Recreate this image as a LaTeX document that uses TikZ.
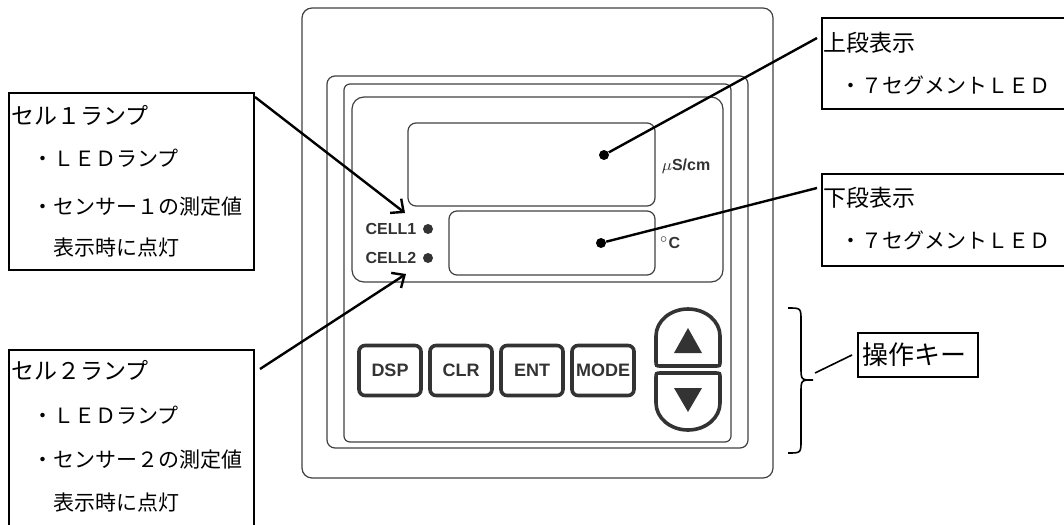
\documentclass[tikz,border=0pt]{standalone}
\usepackage{fontspec}
\setmainfont{Noto Sans CJK JP}
\newfontfamily\hv{Liberation Sans}
\usetikzlibrary{arrows.meta}

\tikzset{
  frame/.style={draw=black!75, line width=0.6pt},
  key/.style={draw=black!80, line width=1.8pt, rounded corners=3pt, minimum width=31pt,
    minimum height=25pt, inner sep=0pt, font=\hv\bfseries\fontsize{9}{9}\selectfont, text=black!80},
  arrowkey/.style={draw=black!80, line width=1.8pt},
  callout/.style={draw, line width=1pt, inner sep=0pt, anchor=north west},
  lead/.style={line width=1.2pt},
  dot/.style={circle, fill, inner sep=0pt, minimum size=5pt},
  lamp/.style={circle, fill=black!80, inner sep=0pt, minimum size=5pt},
  title/.style={anchor=west, inner sep=0pt, font=\fontsize{11.5}{12}\selectfont},
  item/.style={anchor=west, inner sep=0pt, font=\fontsize{10.5}{11}\selectfont},
  panel/.style={font=\hv\bfseries\fontsize{8}{8}\selectfont, text=black!80, inner sep=0pt},
}

\begin{document}
\begin{tikzpicture}[x=0.5pt, y=-0.5pt, >={Straight Barb[length=5pt,width=9pt]}]
    \useasboundingbox (0,0) rectangle (1064,524);
    \clip (0,0) rectangle (1064,524);

    % ケース
    \draw[frame, rounded corners=5pt] (302,8) rectangle (773,478);
    \draw[frame, rounded corners=4pt] (327,76) rectangle (748,448);
    \draw[frame, rounded corners=3pt] (344,84) rectangle (731,442);

    % 表示部
    \draw[frame, rounded corners=6pt] (352,97) rectangle (723,282);
    \draw[frame, rounded corners=4pt] (408,123) rectangle (655,206);
    \draw[frame, rounded corners=4pt] (449,211) rectangle (655,275);
    \node[panel] (unitup) at (686,166) {$\mu$S/cm};
    \node[panel] (unitlow) at (670,243) {$^{\circ}$C};
    \node[panel] (cellone) at (391,229) {CELL1};
    \node[panel] (celltwo) at (391,258) {CELL2};
    \node[lamp] (lampone) at (428,229) {};
    \node[lamp] (lamptwo) at (428,258) {};
    \node[dot] (updot) at (604,155) {};
    \node[dot] (lowdot) at (601,243) {};

    % 操作キー
    \foreach \name/\txt [count=\i from 0] in {dsp/DSP, clr/CLR, ent/ENT, mode/MODE}
        \node[key] (\name) at (390+71*\i,370.5) {\txt};
    \draw[arrowkey] (656,336) .. controls (656,321) and (670.4,309) .. (688,309)
        .. controls (705.6,309) and (720,321) .. (720,336) -- (720,361)
        .. controls (720,366) .. (715,366) -- (661,366) .. controls (656,366) .. (656,361) -- cycle;
    \draw[arrowkey] (656,378) .. controls (656,373) .. (661,373) -- (715,373)
        .. controls (720,373) .. (720,378) -- (720,403)
        .. controls (720,418) and (705.6,430) .. (688,430)
        .. controls (670.4,430) and (656,418) .. (656,403) -- cycle;
    \fill[black!80] (674,353) -- (688,328) -- (702,353) -- cycle;
    \fill[black!80] (674,388) -- (702,388) -- (688,412) -- cycle;

    % 中かっこ
    \draw[line width=0.8pt] (788,308) .. controls (801,308) .. (801,321) -- (801,367)
        .. controls (801,380) .. (813,380) .. controls (801,380) .. (801,393) -- (801,440)
        .. controls (801,453) .. (788,453);
    \coordinate (bracetip) at (815,373);

    % 説明の枠
    \node[callout, minimum width=122.5pt, minimum height=88.5pt] (lampbox1) at (8,92) {};
    \node[title] at (11,115) {セル１ランプ};
    \node[item] at (32,158) {・ＬＥＤランプ};
    \node[item] at (32,207) {・センサー１の測定値};
    \node[item] at (53,248) {表示時に点灯};

    \node[callout, minimum width=122.5pt, minimum height=100pt] (lampbox2) at (8,349) {};
    \node[title] at (11,370) {セル２ランプ};
    \node[item] at (32,415) {・ＬＥＤランプ};
    \node[item] at (32,460) {・センサー２の測定値};
    \node[item] at (53,503) {表示時に点灯};

    \node[callout, minimum width=130pt, minimum height=45.5pt] (upbox) at (821,17) {};
    \node[title] at (823,43) {上段表示};
    \node[item] at (840,85) {・７セグメントＬＥＤ};

    \node[callout, minimum width=130pt, minimum height=46pt] (lowbox) at (821,173) {};
    \node[title] at (823,198) {下段表示};
    \node[item] at (840,240) {・７セグメントＬＥＤ};

    \node[callout, anchor=west, text width=56pt, inner xsep=2pt, minimum height=22pt,
        font=\fontsize{13}{13}\selectfont] (keybox) at (857,355) {操作キー};

    % 引き出し線
    \coordinate (cellonetip) at (405,213);
    \coordinate (celltwotip) at (406,274);
    \draw[lead, ->] ([yshift=-2.5pt]lampbox1.north east) -- (cellonetip);
    \draw[lead, ->] ([xshift=2.5pt, yshift=-10pt]lampbox2.north east) -- (celltwotip);
    \draw[lead] (updot) -- ([xshift=-2pt, yshift=-10.5pt]upbox.north west);
    \draw[lead] (lowdot) -- ([xshift=-2pt, yshift=-7.5pt]lowbox.north west);
    \draw[line width=0.8pt] (bracetip) -- ([xshift=-2.5pt]keybox.west);
\end{tikzpicture}
\end{document}
